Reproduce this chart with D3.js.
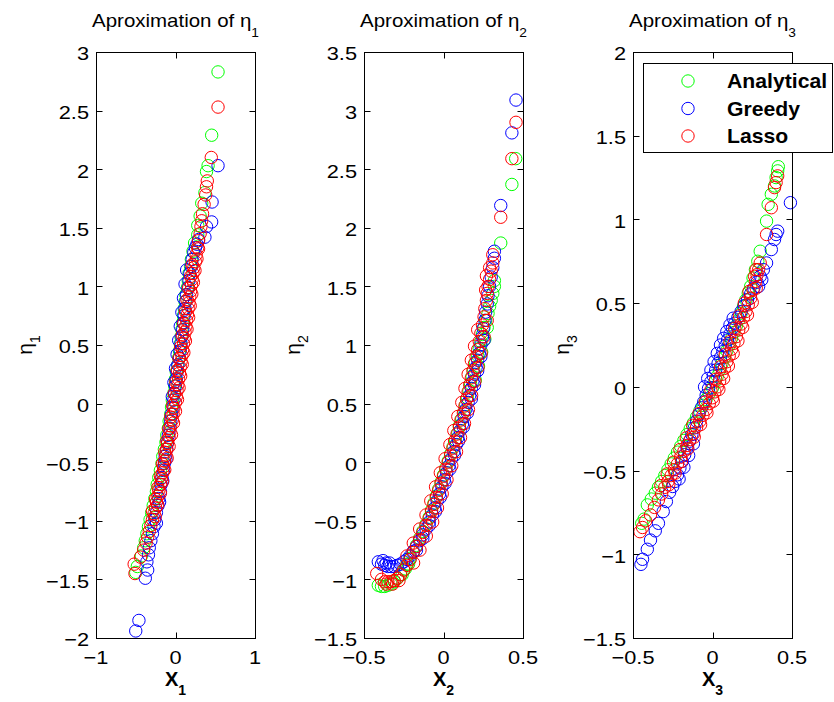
<!DOCTYPE html>
<html><head><meta charset="utf-8">
<script src="https://cdn.jsdelivr.net/npm/d3@7"></script>
<style>body{margin:0;background:#fff}</style>
</head><body>
<svg id="chart" width="834" height="702"></svg>
<script>
// ---------------- data ----------------
const seriesNames = ["Analytical", "Greedy", "Lasso"];
const seriesColors = ["#00ff00", "#0000ff", "#ff0000"];

const panelTitles = ["Aproximation of η", "Aproximation of η", "Aproximation of η"];
const panelSubs = ["1", "2", "3"];

const xDomains = [[-1, 1], [-0.5, 0.5], [-0.5, 0.5]];
const yDomains = [[-2, 3], [-1.5, 3.5], [-1.5, 2]];
const xTicks1 = [-1, 0, 1];
const xTicks2 = [-0.5, 0, 0.5];
const xTicks3 = [-0.5, 0, 0.5];
const yTicks1 = [-2, -1.5, -1, -0.5, 0, 0.5, 1, 1.5, 2, 2.5, 3];
const yTicks2 = [-1.5, -1, -0.5, 0, 0.5, 1, 1.5, 2, 2.5, 3, 3.5];
const yTicks3 = [-1.5, -1, -0.5, 0, 0.5, 1, 1.5, 2];

// panel 1 (eta_1 vs X_1)
const eta1Analytical = [[-0.50,-1.44],[-0.48,-1.39],[-0.43,-1.30],[-0.40,-1.23],[-0.38,-1.17],[-0.36,-1.11],[-0.34,-1.05],[-0.32,-0.99],[-0.30,-0.93],[-0.28,-0.87],[-0.26,-0.81],[-0.24,-0.75],[-0.23,-0.69],[-0.21,-0.63],[-0.19,-0.57],[-0.17,-0.51],[-0.16,-0.45],[-0.14,-0.39],[-0.12,-0.33],[-0.11,-0.27],[-0.09,-0.21],[-0.08,-0.15],[-0.06,-0.09],[-0.05,-0.03],[-0.04,0.03],[-0.02,0.09],[-0.01,0.15],[0.00,0.21],[0.01,0.27],[0.03,0.33],[0.04,0.39],[0.05,0.45],[0.06,0.51],[0.07,0.57],[0.08,0.63],[0.09,0.69],[0.10,0.75],[0.11,0.81],[0.12,0.87],[0.13,0.93],[0.15,0.99],[0.16,1.05],[0.17,1.11],[0.19,1.17],[0.20,1.23],[0.22,1.30],[0.24,1.37],[0.28,1.44],[0.28,1.52],[0.31,1.60],[0.33,1.71],[0.37,1.80],[0.39,1.98],[0.41,2.03],[0.455,2.29],[0.535,2.83]];
const eta1Greedy = [[-0.50,-1.94],[-0.46,-1.85],[-0.38,-1.49],[-0.35,-1.42],[-0.36,-1.35],[-0.34,-1.29],[-0.33,-1.23],[-0.31,-1.17],[-0.29,-1.11],[-0.27,-1.05],[-0.26,-0.99],[-0.24,-0.93],[-0.22,-0.87],[-0.21,-0.81],[-0.19,-0.75],[-0.18,-0.69],[-0.17,-0.63],[-0.15,-0.57],[-0.14,-0.51],[-0.13,-0.45],[-0.11,-0.39],[-0.10,-0.33],[-0.09,-0.27],[-0.07,-0.21],[-0.06,-0.15],[-0.05,-0.09],[-0.03,-0.03],[-0.02,0.03],[-0.01,0.09],[0.00,0.15],[0.01,0.21],[0.02,0.27],[0.03,0.33],[0.05,0.39],[0.06,0.45],[0.07,0.51],[0.08,0.57],[0.09,0.63],[0.10,0.69],[0.11,0.75],[0.12,0.81],[0.13,0.87],[0.14,0.93],[0.16,0.99],[0.17,1.05],[0.18,1.11],[0.20,1.17],[0.21,1.23],[0.23,1.29],[0.25,1.33],[0.27,1.36],[0.29,1.40],[0.37,1.42],[0.39,1.51],[0.455,1.55],[0.46,1.72],[0.535,2.03],
  [-0.04,0.06],[-0.02,0.18],[0.00,0.30],[0.02,0.42],[0.04,0.54],[0.06,0.66],[0.08,0.78],[0.10,0.90],[0.12,1.02],[0.14,1.14],[-0.12,-0.48],[-0.16,-0.66],[-0.20,-0.84],[-0.24,-1.02]];
const eta1Lasso = [[-0.51,-1.45],[-0.52,-1.37],[-0.44,-1.31],[-0.40,-1.25],[-0.37,-1.19],[-0.35,-1.14],[-0.33,-1.09],[-0.31,-1.04],[-0.29,-0.99],[-0.27,-0.94],[-0.25,-0.89],[-0.24,-0.84],[-0.22,-0.79],[-0.21,-0.74],[-0.19,-0.69],[-0.18,-0.64],[-0.16,-0.59],[-0.15,-0.54],[-0.14,-0.49],[-0.12,-0.44],[-0.11,-0.39],[-0.10,-0.34],[-0.08,-0.29],[-0.07,-0.24],[-0.06,-0.19],[-0.04,-0.14],[-0.03,-0.09],[-0.02,-0.04],[0.00,0.01],[0.01,0.06],[0.02,0.11],[0.03,0.16],[0.04,0.21],[0.05,0.26],[0.06,0.31],[0.07,0.36],[0.08,0.41],[0.09,0.46],[0.10,0.51],[0.11,0.56],[0.12,0.61],[0.13,0.66],[0.14,0.71],[0.15,0.76],[0.16,0.81],[0.17,0.86],[0.18,0.91],[0.19,0.96],[0.20,1.01],[0.21,1.06],[0.22,1.11],[0.23,1.16],[0.25,1.21],[0.26,1.27],[0.28,1.33],[0.29,1.39],[0.31,1.45],[0.32,1.51],[0.33,1.56],[0.34,1.62],[0.36,1.70],[0.38,1.78],[0.39,1.85],[0.40,1.90],[0.45,2.10],[0.535,2.53],
  [-0.255,-0.965],[-0.225,-0.865],[-0.19,-0.765],[-0.165,-0.665],[-0.135,-0.565],[-0.105,-0.465],[-0.08,-0.365],[-0.05,-0.265],[-0.025,-0.165],[0.00,-0.065],[0.025,0.035],[0.045,0.135],[0.065,0.235],[0.085,0.335],[0.105,0.435],[0.125,0.535],[0.145,0.635],[0.165,0.735],[0.185,0.835],[0.205,0.935],[0.225,1.035],[0.245,1.135],[0.27,1.235],[0.29,1.32],
  [-0.29,-0.915],[-0.25,-0.815],[-0.22,-0.715],[-0.19,-0.615],[-0.165,-0.515],[-0.135,-0.415],[-0.11,-0.315],[-0.085,-0.215],[-0.06,-0.115],[-0.035,-0.015],[-0.015,0.085],[0.005,0.185],[0.025,0.285],[0.045,0.385],[0.065,0.485],[0.085,0.585],[0.105,0.685],[0.125,0.785],[0.145,0.885],[0.165,0.985],[0.19,1.085],[0.21,1.185]];

// panel 2 (eta_2 vs X_2)
const eta2Analytical = [[-0.41,-1.05],[-0.39,-1.06],[-0.37,-1.06],[-0.35,-1.05],[-0.33,-1.04],[-0.31,-1.02],[-0.29,-0.99],[-0.27,-0.96],[-0.25,-0.92],[-0.23,-0.87],[-0.21,-0.82],[-0.19,-0.77],[-0.17,-0.71],[-0.15,-0.65],[-0.13,-0.59],[-0.11,-0.53],[-0.09,-0.47],[-0.075,-0.41],[-0.06,-0.35],[-0.045,-0.29],[-0.03,-0.23],[-0.015,-0.17],[0.00,-0.11],[0.015,-0.05],[0.03,0.01],[0.045,0.07],[0.06,0.13],[0.075,0.19],[0.09,0.25],[0.10,0.31],[0.115,0.37],[0.13,0.43],[0.14,0.49],[0.15,0.55],[0.16,0.61],[0.17,0.67],[0.18,0.73],[0.19,0.79],[0.20,0.85],[0.215,0.91],[0.225,0.97],[0.235,1.03],[0.245,1.09],[0.255,1.15],[0.265,1.21],[0.28,1.27],[0.29,1.33],[0.30,1.38],[0.31,1.44],[0.32,1.50],[0.32,1.55],[0.36,1.87],[0.43,2.37],[0.454,2.59],
  [0.20,0.70],[0.22,0.82],[0.24,0.94],[0.26,1.05],[0.275,1.15],[-0.26,-0.96],[-0.24,-0.91],[-0.22,-0.87]];
const eta2Greedy = [[-0.41,-0.85],[-0.39,-0.87],[-0.37,-0.88],[-0.35,-0.89],[-0.33,-0.89],[-0.31,-0.89],[-0.29,-0.88],[-0.27,-0.87],[-0.25,-0.85],[-0.23,-0.83],[-0.21,-0.80],[-0.19,-0.76],[-0.17,-0.72],[-0.15,-0.67],[-0.13,-0.62],[-0.11,-0.57],[-0.09,-0.51],[-0.07,-0.45],[-0.055,-0.39],[-0.04,-0.33],[-0.025,-0.27],[-0.01,-0.21],[0.005,-0.15],[0.02,-0.09],[0.035,-0.03],[0.05,0.03],[0.065,0.09],[0.08,0.15],[0.09,0.21],[0.105,0.27],[0.12,0.33],[0.13,0.39],[0.14,0.45],[0.155,0.51],[0.165,0.57],[0.175,0.63],[0.185,0.69],[0.195,0.75],[0.205,0.81],[0.215,0.87],[0.225,0.93],[0.235,1.00],[0.245,1.07],[0.25,1.14],[0.26,1.21],[0.265,1.28],[0.275,1.35],[0.28,1.42],[0.29,1.50],[0.30,1.58],[0.31,1.66],[0.32,1.74],[0.32,1.80],[0.36,2.19],[0.43,2.81],[0.456,3.09],
  [-0.17,-0.75],[-0.13,-0.65],[-0.09,-0.54],[-0.05,-0.42],[-0.02,-0.30],[0.01,-0.18],[0.04,-0.06],[0.07,0.06],[0.095,0.18],[0.125,0.30],[0.15,0.42],[0.175,0.54],[0.195,0.66],[0.215,0.78],[0.235,0.90],[0.255,1.04],[-0.38,-0.84],[-0.36,-0.86],[-0.34,-0.86]];
const eta2Lasso = [[-0.42,-0.95],[-0.39,-1.00],[-0.37,-1.02],[-0.35,-1.02],[-0.33,-1.02],[-0.31,-1.01],[-0.29,-0.99],[-0.27,-0.96],[-0.25,-0.92],[-0.23,-0.88],[-0.21,-0.83],[-0.19,-0.77],[-0.17,-0.72],[-0.15,-0.66],[-0.13,-0.60],[-0.11,-0.54],[-0.09,-0.48],[-0.075,-0.42],[-0.06,-0.36],[-0.045,-0.30],[-0.03,-0.24],[-0.015,-0.18],[0.00,-0.12],[0.015,-0.06],[0.03,0.00],[0.045,0.06],[0.06,0.12],[0.07,0.18],[0.085,0.24],[0.10,0.30],[0.11,0.36],[0.125,0.42],[0.135,0.48],[0.145,0.54],[0.155,0.60],[0.165,0.66],[0.175,0.72],[0.185,0.78],[0.195,0.84],[0.205,0.90],[0.215,0.96],[0.225,1.03],[0.235,1.10],[0.245,1.17],[0.255,1.24],[0.26,1.31],[0.27,1.38],[0.275,1.44],[0.28,1.50],[0.29,1.56],[0.30,1.63],[0.31,1.70],[0.31,1.77],[0.36,2.09],[0.43,2.59],[0.456,2.90],
  [-0.188,-0.86],[-0.148,-0.75],[-0.108,-0.63],[-0.068,-0.51],[-0.038,-0.39],[-0.008,-0.27],[0.022,-0.15],[0.052,-0.03],[0.082,0.09],[0.107,0.21],[0.132,0.33],[0.157,0.45],[0.177,0.57],[0.197,0.69],[0.217,0.81],[0.237,0.93],[0.255,1.07],[0.275,1.21],
  [-0.23,-0.80],[-0.19,-0.69],[-0.15,-0.57],[-0.11,-0.45],[-0.08,-0.33],[-0.05,-0.21],[-0.02,-0.09],[0.01,0.03],[0.04,0.15],[0.065,0.27],[0.09,0.39],[0.115,0.51],[0.135,0.63],[0.155,0.75],[0.175,0.87],[0.195,0.99],[0.215,1.13],[0.265,1.47],[0.27,1.59],[0.29,1.66],[-0.36,-1.04],[-0.32,-1.04],[-0.28,-1.01]];

// panel 3 (eta_3 vs X_3)
const eta3Analytical = [[-0.445,-0.815],[-0.43,-0.79],[-0.41,-0.705],[-0.385,-0.67],[-0.36,-0.635],[-0.34,-0.60],[-0.32,-0.565],[-0.30,-0.53],[-0.28,-0.495],[-0.26,-0.46],[-0.24,-0.425],[-0.22,-0.39],[-0.20,-0.355],[-0.18,-0.32],[-0.16,-0.285],[-0.14,-0.25],[-0.12,-0.215],[-0.10,-0.18],[-0.08,-0.145],[-0.06,-0.11],[-0.04,-0.075],[-0.02,-0.04],[0.00,-0.005],[0.015,0.03],[0.03,0.065],[0.045,0.10],[0.06,0.14],[0.075,0.175],[0.09,0.215],[0.105,0.25],[0.12,0.29],[0.135,0.325],[0.15,0.365],[0.165,0.40],[0.18,0.44],[0.195,0.48],[0.21,0.52],[0.225,0.56],[0.24,0.60],[0.255,0.65],[0.27,0.70],[0.285,0.75],[0.30,0.81],[0.34,0.99],[0.35,1.09],[0.37,1.15],[0.39,1.20],[0.40,1.25],[0.41,1.29],[0.414,1.315]];
const eta3Greedy = [[-0.45,-1.06],[-0.44,-1.03],[-0.41,-0.97],[-0.39,-0.915],[-0.36,-0.86],[-0.34,-0.815],[-0.31,-0.745],[-0.29,-0.685],[-0.27,-0.63],[-0.25,-0.595],[-0.236,-0.565],[-0.22,-0.525],[-0.205,-0.485],[-0.19,-0.445],[-0.175,-0.405],[-0.16,-0.365],[-0.145,-0.325],[-0.13,-0.285],[-0.115,-0.245],[-0.10,-0.205],[-0.085,-0.165],[-0.07,-0.125],[-0.055,-0.09],[-0.04,-0.05],[-0.025,-0.01],[-0.01,0.03],[0.005,0.065],[0.02,0.10],[0.035,0.14],[0.05,0.175],[0.065,0.21],[0.08,0.245],[0.095,0.28],[0.11,0.315],[0.125,0.35],[0.14,0.38],[0.16,0.415],[0.18,0.45],[0.20,0.485],[0.22,0.52],[0.24,0.555],[0.26,0.59],[0.28,0.625],[0.30,0.66],[0.32,0.70],[0.34,0.74],[0.37,0.82],[0.39,0.88],[0.40,0.91],[0.41,0.93],[0.49,1.10],
  [-0.05,0.0],[-0.03,0.05],[-0.01,0.10],[0.01,0.15],[0.03,0.20],[0.05,0.25],[0.07,0.29],[0.09,0.33],[0.11,0.37],[0.13,0.41],[-0.21,-0.55],[-0.18,-0.48],[-0.15,-0.41],[-0.12,-0.34],[0.29,0.60],[0.31,0.64]];
const eta3Lasso = [[-0.456,-0.865],[-0.44,-0.84],[-0.42,-0.80],[-0.39,-0.765],[-0.365,-0.72],[-0.34,-0.675],[-0.32,-0.64],[-0.30,-0.60],[-0.28,-0.565],[-0.26,-0.53],[-0.24,-0.495],[-0.22,-0.46],[-0.20,-0.42],[-0.18,-0.385],[-0.16,-0.35],[-0.14,-0.315],[-0.12,-0.28],[-0.10,-0.24],[-0.08,-0.205],[-0.06,-0.17],[-0.04,-0.135],[-0.02,-0.10],[0.00,-0.065],[0.015,-0.03],[0.03,0.00],[0.045,0.035],[0.06,0.075],[0.075,0.11],[0.09,0.15],[0.105,0.185],[0.12,0.225],[0.135,0.26],[0.15,0.30],[0.165,0.34],[0.18,0.375],[0.195,0.415],[0.21,0.45],[0.225,0.49],[0.24,0.53],[0.255,0.58],[0.27,0.63],[0.28,0.67],[0.29,0.70],[0.30,0.74],[0.34,0.91],[0.37,1.07],[0.39,1.19],[0.40,1.22],[0.41,1.26],
  [-0.275,-0.585],[-0.235,-0.515],[-0.195,-0.445],[-0.155,-0.37],[-0.115,-0.30],[-0.075,-0.225],[-0.035,-0.155],[0.005,-0.085],[0.04,-0.015],[0.07,0.05],[0.10,0.125],[0.13,0.20],[0.16,0.275],[0.19,0.355],[0.22,0.43],[0.25,0.505],[0.275,0.59],
  [-0.325,-0.59],[-0.285,-0.52],[-0.245,-0.45],[-0.205,-0.375],[-0.165,-0.305],[-0.125,-0.23],[-0.085,-0.16],[-0.045,-0.09],[-0.01,-0.02],[0.02,0.045],[0.05,0.12],[0.08,0.195],[0.11,0.27],[0.14,0.35],[0.17,0.425],[0.20,0.50],[0.23,0.57],[0.265,0.66],[0.275,0.70]];

// ---------------- layout ----------------
const panels = [
  {left: 96,  right: 255, xd: xDomains[0], yd: yDomains[0], xt: xTicks1, yt: yTicks1, data: [eta1Analytical, eta1Greedy, eta1Lasso]},
  {left: 364, right: 523, xd: xDomains[1], yd: yDomains[1], xt: xTicks2, yt: yTicks2, data: [eta2Analytical, eta2Greedy, eta2Lasso]},
  {left: 633, right: 792, xd: xDomains[2], yd: yDomains[2], xt: xTicks3, yt: yTicks3, data: [eta3Analytical, eta3Greedy, eta3Lasso]}
];
const plotTop = 52, plotBottom = 638;
const tickLen = 6;
const FONT = "Liberation Sans, Arial, Helvetica, sans-serif";
const fmt = d3.format("~g");
const svg = d3.select("#chart");
svg.append("rect").attr("width", 834).attr("height", 702).attr("fill", "#ffffff");
const markLayer = svg.append("g");
const textLayer = svg.append("g");
const frameLayer = svg.append("g");
const legendLayer = svg.append("g");

panels.forEach((p, i) => {
  const x = d3.scaleLinear().domain(p.xd).range([p.left, p.right]);
  const y = d3.scaleLinear().domain(p.yd).range([plotBottom, plotTop]);
  const L = p.left, R = p.right, T = plotTop, B = plotBottom;

  // markers
  p.data.forEach((ser, si) => {
    markLayer.append("g").selectAll("circle").data(ser).join("circle")
      .attr("cx", d => x(d[0])).attr("cy", d => y(d[1])).attr("r", 6.2)
      .attr("fill", "none").attr("stroke", seriesColors[si]).attr("stroke-width", 1);
  });

  // frame
  frameLayer.append("rect").attr("x", L + 0.5).attr("y", T + 0.5)
    .attr("width", R - L).attr("height", B - T)
    .attr("fill", "none").attr("stroke", "#000000").attr("stroke-width", 1);

  // inward ticks + labels
  p.xt.forEach(v => {
    const px = Math.round(x(v)) + 0.5;
    frameLayer.append("line").attr("x1", px).attr("x2", px).attr("y1", B + 0.5).attr("y2", B + 0.5 - tickLen)
      .attr("stroke", "#000000").attr("stroke-width", 1);
    frameLayer.append("line").attr("x1", px).attr("x2", px).attr("y1", T + 0.5).attr("y2", T + 0.5 + tickLen)
      .attr("stroke", "#000000").attr("stroke-width", 1);
    textLayer.append("g").attr("transform", `translate(${x(v)},664) scale(1.17,1)`)
      .append("text").attr("text-anchor", "middle").attr("font-family", FONT).attr("font-size", 18.6)
      .attr("fill", "#000").text(fmt(v));
  });
  p.yt.forEach(v => {
    const py = Math.round(y(v)) + 0.5;
    frameLayer.append("line").attr("x1", L + 0.5).attr("x2", L + 0.5 + tickLen).attr("y1", py).attr("y2", py)
      .attr("stroke", "#000000").attr("stroke-width", 1);
    frameLayer.append("line").attr("x1", R + 0.5).attr("x2", R + 0.5 - tickLen).attr("y1", py).attr("y2", py)
      .attr("stroke", "#000000").attr("stroke-width", 1);
    textLayer.append("g").attr("transform", `translate(${L - 7},${y(v) + 8.3}) scale(1.17,1)`)
      .append("text").attr("text-anchor", "end").attr("font-family", FONT).attr("font-size", 18.6)
      .attr("fill", "#000").text(fmt(v));
  });

  const cx = (L + R) / 2;
  // title
  const tx = textLayer.append("g").attr("transform", `translate(${cx},27) scale(1.1,1)`)
    .append("text").attr("text-anchor", "middle").attr("font-family", FONT).attr("font-size", 18.6).attr("fill", "#000");
  tx.append("tspan").text(panelTitles[i]);
  tx.append("tspan").attr("font-size", 12.5).attr("dy", 10).text(panelSubs[i]);

  // x label
  const xl = textLayer.append("text").attr("x", cx).attr("y", 686).attr("text-anchor", "middle")
    .attr("font-family", FONT).attr("font-size", 20).attr("font-weight", "bold").attr("fill", "#000");
  xl.append("tspan").text("X");
  xl.append("tspan").attr("font-size", 14).attr("dy", 9).text(panelSubs[i]);

  // y label
  const yl = textLayer.append("text").attr("transform", `translate(${L - 64},${(T + B) / 2}) rotate(-90)`)
    .attr("text-anchor", "middle").attr("font-family", FONT).attr("font-size", 21).attr("fill", "#000");
  yl.append("tspan").text("η");
  yl.append("tspan").attr("font-size", 14).attr("dy", 8).text(panelSubs[i]);
});

// legend
legendLayer.append("rect").attr("x", 643.5).attr("y", 63.5).attr("width", 189).attr("height", 89)
  .attr("fill", "#ffffff").attr("stroke", "#000000").attr("stroke-width", 1);
const rowY = d3.scalePoint().domain(seriesNames).range([81, 136]);
seriesNames.forEach((n, i) => {
  legendLayer.append("circle").attr("cx", 688).attr("cy", rowY(n)).attr("r", 6.2)
    .attr("fill", "none").attr("stroke", seriesColors[i]).attr("stroke-width", 1);
  legendLayer.append("g").attr("transform", `translate(727,${rowY(n) + 7}) scale(1.06,1)`)
    .append("text").attr("font-family", FONT).attr("font-size", 20).attr("font-weight", "bold")
    .attr("fill", "#000").text(n);
});
</script>
</body></html>
